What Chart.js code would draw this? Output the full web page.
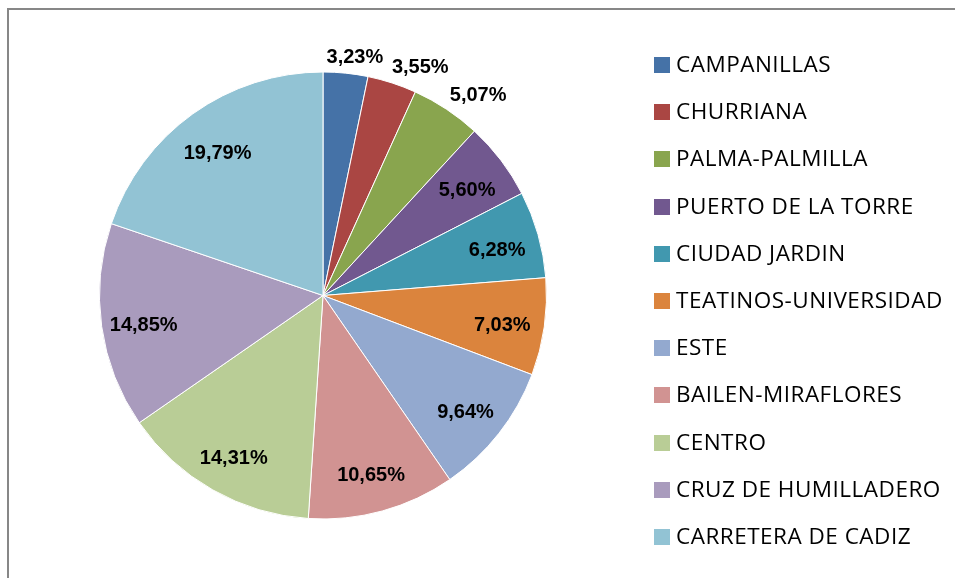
<!DOCTYPE html>
<html>
<head>
<meta charset="utf-8">
<script src="https://cdn.jsdelivr.net/npm/chart.js@4"></script>
<style>
  html, body { margin: 0; padding: 0; background: #fff; overflow: hidden; }
  #wrap { position: relative; width: 955px; height: 578px; }
  #frame { position: absolute; left: 7px; top: 8px; width: 1000px; height: 700px;
           border-left: 2px solid #878787; border-top: 2px solid #878787; }
  #chart { position: absolute; left: 0; top: 0; }
  #legend { position: absolute; left: 654px; top: 57px; font-family: "Open Sans", sans-serif;
            font-size: 22.5px; letter-spacing: 0.5px; color: #000; }
  .item { position: absolute; left: 0; height: 16px; white-space: nowrap; }
  .box { position: absolute; left: 0; top: 0; width: 16px; height: 16px; }
  .txt { position: absolute; left: 22px; top: -7px; line-height: 28px; }
</style>
</head>
<body>
<div id="wrap">
  <div id="frame"></div>
  <canvas id="chart" width="955" height="578"></canvas>
  <div id="legend"></div>
</div>
<script>
/* Datos por distrito */
const districts = [
  'CAMPANILLAS', 'CHURRIANA', 'PALMA-PALMILLA', 'PUERTO DE LA TORRE',
  'CIUDAD JARDIN', 'TEATINOS-UNIVERSIDAD', 'ESTE', 'BAILEN-MIRAFLORES',
  'CENTRO', 'CRUZ DE HUMILLADERO', 'CARRETERA DE CADIZ'
];
const shares = [3.23, 3.55, 5.07, 5.60, 6.28, 7.03, 9.64, 10.65, 14.31, 14.85, 19.79];
const sliceColors = [
  '#4572A7', '#AA4643', '#89A54E', '#71588F', '#4198AF', '#DB843D',
  '#93A9CF', '#D19392', '#B9CD96', '#A99BBD', '#92C3D4'
];

function fmt(v) {
  return v.toFixed(2).replace('.', ',') + '%';
}

// etiquetas: dentro para los sectores grandes, fuera para los pequeños
const pieLabels = {
  id: 'pieLabels',
  afterDatasetsDraw(chart) {
    const ctx = chart.ctx;
    const meta = chart.getDatasetMeta(0);
    ctx.save();
    ctx.font = 'bold 20px "Liberation Sans", Arial, sans-serif';
    ctx.fillStyle = '#000';
    ctx.textAlign = 'center';
    ctx.textBaseline = 'middle';
    meta.data.forEach((arc, i) => {
      const p = arc.getProps(['x', 'y', 'startAngle', 'endAngle', 'outerRadius'], true);
      const mid = (p.startAngle + p.endAngle) / 2;
      const txt = fmt(shares[i]);
      const c = Math.cos(mid), s = Math.sin(mid);
      let x, y;
      if (shares[i] < 5.5) {
        const w = ctx.measureText(txt).width;
        const r = p.outerRadius + 6;
        const k = Math.max(-1, Math.min(1, c * 3));
        x = p.x + c * r + k * w / 2;
        y = p.y + s * r + s * 10;
      } else {
        const r = p.outerRadius * 0.81;
        x = p.x + c * r;
        y = p.y + s * r + 5;
      }
      ctx.fillText(txt, x, y);
    });
    ctx.restore();
  }
};

const chart = new Chart(document.getElementById('chart'), {
  type: 'pie',
  data: {
    labels: districts,
    datasets: [{
      data: shares,
      backgroundColor: sliceColors,
      borderColor: '#ffffff',
      borderWidth: 1
    }]
  },
  options: {
    responsive: false,
    animation: false,
    layout: { padding: { left: 99, right: 408, top: 71, bottom: 58 } },
    plugins: {
      legend: { display: false },
      tooltip: { enabled: false }
    }
  },
  plugins: [pieLabels]
});

// leyenda a la derecha
const legend = document.getElementById('legend');
districts.forEach((name, i) => {
  const item = document.createElement('div');
  item.className = 'item';
  item.style.top = (i * 47.2) + 'px';
  item.innerHTML = '<div class="box" style="background:' + sliceColors[i] + '"></div>' +
                   '<div class="txt">' + name + '</div>';
  legend.appendChild(item);
});
</script>
</body>
</html>
